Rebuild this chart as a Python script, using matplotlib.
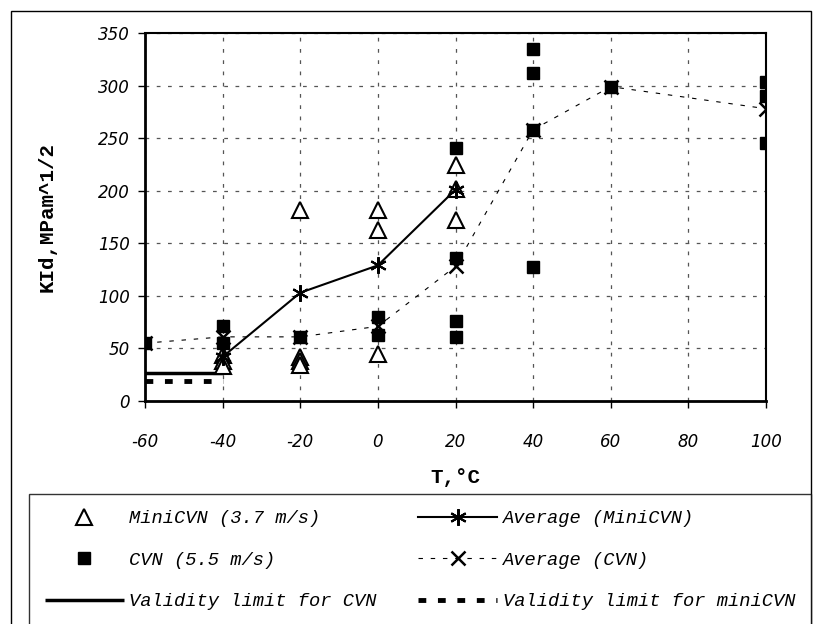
import matplotlib
matplotlib.use("Agg")
import matplotlib.pyplot as plt
from matplotlib.patches import Rectangle

plt.rcParams['axes.unicode_minus'] = False

# ---- data ----
mini_T = [-40, -40, -40, -20, -20, -20, -20, 0, 0, 0, 20, 20, 20]
mini_K = [44, 38, 33, 182, 42, 38, 34, 182, 163, 45, 224, 202, 172]

cvn_T = [-60, -40, -40, -20, 0, 0, 20, 20, 20, 20, 40, 40, 40, 40, 60, 100, 100, 100]
cvn_K = [55, 71, 55, 61, 80, 63, 241, 136, 76, 61, 335, 312, 258, 127, 299, 303, 290, 245]

avg_mini_T = [-40, -20, 0, 20]
avg_mini_K = [42, 103, 129, 201]

avg_cvn_T = [-60, -40, -20, 0, 20, 40, 60, 100]
avg_cvn_K = [55, 61, 61, 71, 128, 258, 299, 278]

limit_T = [-60, -40]
limit_cvn = [27, 27]
limit_mini = [19, 19]

x_ticks = [-60, -40, -20, 0, 20, 40, 60, 80, 100]
y_ticks = [0, 50, 100, 150, 200, 250, 300, 350]

labels = ["MiniCVN (3.7 m/s)", "CVN (5.5 m/s)", "Validity limit for CVN",
          "Average (MiniCVN)", "Average (CVN)", "Validity limit for miniCVN"]

# ---- figure ----
W, H = 816, 624
fig = plt.figure(figsize=(W / 100, H / 100), dpi=100)
ax = fig.add_axes([145 / W, 1 - 401 / H, (766 - 145) / W, (401 - 33) / H])

asterisk = (6, 2, 0)

h_mini, = ax.plot(mini_T, mini_K, linestyle='none', marker='^', markersize=12,
                  markerfacecolor='white', markeredgecolor='black', markeredgewidth=1.5, zorder=4)
h_cvn, = ax.plot(cvn_T, cvn_K, linestyle='none', marker='s', markersize=8,
                 markerfacecolor='black', markeredgecolor='black', zorder=4)
h_avgm, = ax.plot(avg_mini_T, avg_mini_K, color='black', lw=1.5, marker=asterisk,
                  markersize=12, markeredgewidth=1.5, zorder=5)
h_avgc, = ax.plot(avg_cvn_T, avg_cvn_K, color='black', lw=0.8, linestyle=(0, (4, 7)),
                  marker='x', markersize=10, markeredgewidth=1.8, zorder=5)
h_limc, = ax.plot(limit_T, limit_cvn, color='black', lw=2.5, solid_capstyle='butt', zorder=3)
h_limm, = ax.plot(limit_T, limit_mini, color='black', lw=3.5, linestyle=(0, (1.6, 2.4)),
                  dash_capstyle='butt', zorder=3)

ax.set_xlim(-60, 100)
ax.set_ylim(0, 350)
ax.set_xticks(x_ticks)
ax.set_yticks(y_ticks)
ax.set_xticklabels([str(v) for v in x_ticks], fontsize=12, fontstyle='italic')
ax.set_yticklabels([str(v) for v in y_ticks], fontsize=12, fontstyle='italic')
ax.tick_params(axis='both', direction='out', length=5, width=1, pad=6)
ax.tick_params(axis='x', pad=18)

ax.grid(True, color='#555555', linestyle=(0, (3, 6)), linewidth=0.9)
ax.set_axisbelow(True)
for side in ['left', 'bottom']:
    ax.spines[side].set_linewidth(2)
for side in ['top', 'right']:
    ax.spines[side].set_linewidth(1.5)

ax.set_xlabel("T,\u00b0C", family='Liberation Mono', fontweight='bold', fontsize=15, labelpad=12)
ax.set_ylabel("KId,MPam^1/2", family='Liberation Mono', fontweight='bold', fontsize=15, labelpad=30)

handles = [h_mini, h_cvn, h_limc, h_avgm, h_avgc, h_limm]
leg = fig.legend(handles, labels, ncol=2, loc='upper left',
                 bbox_to_anchor=(29 / W, 0, (811 - 29) / W, 1 - 494 / H),
                 mode='expand', frameon=True, fancybox=False, edgecolor='black',
                 prop={'family': 'Liberation Mono', 'style': 'italic', 'size': 13.5},
                 handlelength=4.2, handletextpad=0.3, labelspacing=1.3,
                 columnspacing=2.5, borderpad=0.85, borderaxespad=0)
leg.get_frame().set_linewidth(1.0)

fig.patches.append(Rectangle((11 / W, -0.05), (811 - 11) / W, 1.05 - 11 / H,
                             transform=fig.transFigure, fill=False, edgecolor='black', lw=1))

fig.savefig("out.png", dpi=100)
